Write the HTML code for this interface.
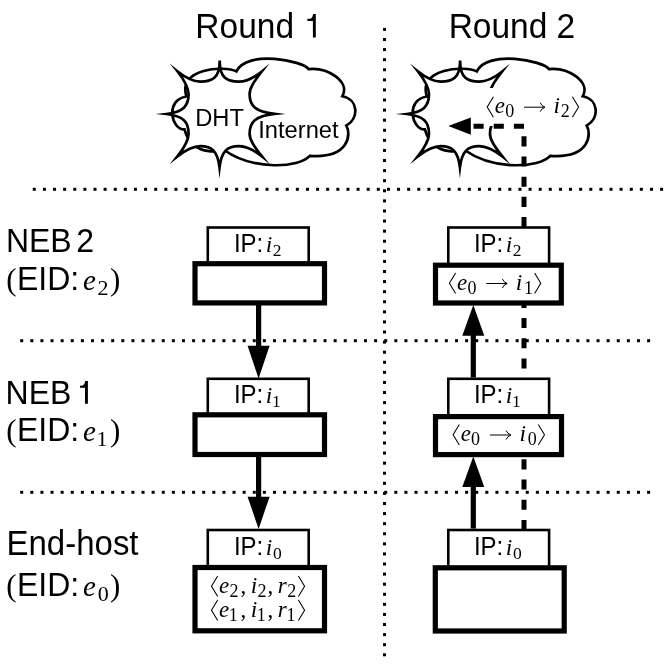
<!DOCTYPE html>
<html><head><meta charset="utf-8"><style>
text.s{font-family:"Liberation Sans",sans-serif}
text.r{font-family:"Liberation Serif",serif}
html,body{margin:0;padding:0;background:#fff;width:672px;height:664px;overflow:hidden;position:relative}
</style></head><body>
<svg width="672" height="664" viewBox="0 0 672 664" style="position:absolute;left:0;top:0;will-change:transform">
<rect width="672" height="664" fill="#fff"/>
<g fill="#000">
<rect x="32.80" y="187.80" width="3.0" height="3.0"/>
<rect x="42.92" y="187.80" width="3.0" height="3.0"/>
<rect x="53.04" y="187.80" width="3.0" height="3.0"/>
<rect x="63.15" y="187.80" width="3.0" height="3.0"/>
<rect x="73.27" y="187.80" width="3.0" height="3.0"/>
<rect x="83.39" y="187.80" width="3.0" height="3.0"/>
<rect x="93.51" y="187.80" width="3.0" height="3.0"/>
<rect x="103.62" y="187.80" width="3.0" height="3.0"/>
<rect x="113.74" y="187.80" width="3.0" height="3.0"/>
<rect x="123.86" y="187.80" width="3.0" height="3.0"/>
<rect x="133.98" y="187.80" width="3.0" height="3.0"/>
<rect x="144.10" y="187.80" width="3.0" height="3.0"/>
<rect x="154.21" y="187.80" width="3.0" height="3.0"/>
<rect x="164.33" y="187.80" width="3.0" height="3.0"/>
<rect x="174.45" y="187.80" width="3.0" height="3.0"/>
<rect x="184.57" y="187.80" width="3.0" height="3.0"/>
<rect x="194.68" y="187.80" width="3.0" height="3.0"/>
<rect x="204.80" y="187.80" width="3.0" height="3.0"/>
<rect x="214.92" y="187.80" width="3.0" height="3.0"/>
<rect x="225.04" y="187.80" width="3.0" height="3.0"/>
<rect x="235.15" y="187.80" width="3.0" height="3.0"/>
<rect x="245.27" y="187.80" width="3.0" height="3.0"/>
<rect x="255.39" y="187.80" width="3.0" height="3.0"/>
<rect x="265.51" y="187.80" width="3.0" height="3.0"/>
<rect x="275.63" y="187.80" width="3.0" height="3.0"/>
<rect x="285.74" y="187.80" width="3.0" height="3.0"/>
<rect x="295.86" y="187.80" width="3.0" height="3.0"/>
<rect x="305.98" y="187.80" width="3.0" height="3.0"/>
<rect x="316.10" y="187.80" width="3.0" height="3.0"/>
<rect x="326.21" y="187.80" width="3.0" height="3.0"/>
<rect x="336.33" y="187.80" width="3.0" height="3.0"/>
<rect x="346.45" y="187.80" width="3.0" height="3.0"/>
<rect x="356.57" y="187.80" width="3.0" height="3.0"/>
<rect x="366.69" y="187.80" width="3.0" height="3.0"/>
<rect x="376.80" y="187.80" width="3.0" height="3.0"/>
<rect x="386.92" y="187.80" width="3.0" height="3.0"/>
<rect x="397.04" y="187.80" width="3.0" height="3.0"/>
<rect x="407.16" y="187.80" width="3.0" height="3.0"/>
<rect x="417.27" y="187.80" width="3.0" height="3.0"/>
<rect x="427.39" y="187.80" width="3.0" height="3.0"/>
<rect x="437.51" y="187.80" width="3.0" height="3.0"/>
<rect x="447.63" y="187.80" width="3.0" height="3.0"/>
<rect x="457.75" y="187.80" width="3.0" height="3.0"/>
<rect x="467.86" y="187.80" width="3.0" height="3.0"/>
<rect x="477.98" y="187.80" width="3.0" height="3.0"/>
<rect x="488.10" y="187.80" width="3.0" height="3.0"/>
<rect x="498.22" y="187.80" width="3.0" height="3.0"/>
<rect x="508.33" y="187.80" width="3.0" height="3.0"/>
<rect x="518.45" y="187.80" width="3.0" height="3.0"/>
<rect x="528.57" y="187.80" width="3.0" height="3.0"/>
<rect x="538.69" y="187.80" width="3.0" height="3.0"/>
<rect x="548.80" y="187.80" width="3.0" height="3.0"/>
<rect x="558.92" y="187.80" width="3.0" height="3.0"/>
<rect x="569.04" y="187.80" width="3.0" height="3.0"/>
<rect x="579.16" y="187.80" width="3.0" height="3.0"/>
<rect x="589.28" y="187.80" width="3.0" height="3.0"/>
<rect x="599.39" y="187.80" width="3.0" height="3.0"/>
<rect x="609.51" y="187.80" width="3.0" height="3.0"/>
<rect x="619.63" y="187.80" width="3.0" height="3.0"/>
<rect x="629.75" y="187.80" width="3.0" height="3.0"/>
<rect x="639.86" y="187.80" width="3.0" height="3.0"/>
<rect x="649.98" y="187.80" width="3.0" height="3.0"/>
<rect x="660.10" y="187.80" width="3.0" height="3.0"/>
<rect x="20.20" y="339.20" width="3.0" height="3.0"/>
<rect x="30.31" y="339.20" width="3.0" height="3.0"/>
<rect x="40.42" y="339.20" width="3.0" height="3.0"/>
<rect x="50.53" y="339.20" width="3.0" height="3.0"/>
<rect x="60.65" y="339.20" width="3.0" height="3.0"/>
<rect x="70.76" y="339.20" width="3.0" height="3.0"/>
<rect x="80.87" y="339.20" width="3.0" height="3.0"/>
<rect x="90.98" y="339.20" width="3.0" height="3.0"/>
<rect x="101.09" y="339.20" width="3.0" height="3.0"/>
<rect x="111.20" y="339.20" width="3.0" height="3.0"/>
<rect x="121.31" y="339.20" width="3.0" height="3.0"/>
<rect x="131.42" y="339.20" width="3.0" height="3.0"/>
<rect x="141.54" y="339.20" width="3.0" height="3.0"/>
<rect x="151.65" y="339.20" width="3.0" height="3.0"/>
<rect x="161.76" y="339.20" width="3.0" height="3.0"/>
<rect x="171.87" y="339.20" width="3.0" height="3.0"/>
<rect x="181.98" y="339.20" width="3.0" height="3.0"/>
<rect x="192.09" y="339.20" width="3.0" height="3.0"/>
<rect x="202.20" y="339.20" width="3.0" height="3.0"/>
<rect x="212.31" y="339.20" width="3.0" height="3.0"/>
<rect x="222.43" y="339.20" width="3.0" height="3.0"/>
<rect x="232.54" y="339.20" width="3.0" height="3.0"/>
<rect x="242.65" y="339.20" width="3.0" height="3.0"/>
<rect x="252.76" y="339.20" width="3.0" height="3.0"/>
<rect x="262.87" y="339.20" width="3.0" height="3.0"/>
<rect x="272.98" y="339.20" width="3.0" height="3.0"/>
<rect x="283.09" y="339.20" width="3.0" height="3.0"/>
<rect x="293.20" y="339.20" width="3.0" height="3.0"/>
<rect x="303.32" y="339.20" width="3.0" height="3.0"/>
<rect x="313.43" y="339.20" width="3.0" height="3.0"/>
<rect x="323.54" y="339.20" width="3.0" height="3.0"/>
<rect x="333.65" y="339.20" width="3.0" height="3.0"/>
<rect x="343.76" y="339.20" width="3.0" height="3.0"/>
<rect x="353.87" y="339.20" width="3.0" height="3.0"/>
<rect x="363.98" y="339.20" width="3.0" height="3.0"/>
<rect x="374.10" y="339.20" width="3.0" height="3.0"/>
<rect x="384.21" y="339.20" width="3.0" height="3.0"/>
<rect x="394.32" y="339.20" width="3.0" height="3.0"/>
<rect x="404.43" y="339.20" width="3.0" height="3.0"/>
<rect x="414.54" y="339.20" width="3.0" height="3.0"/>
<rect x="424.65" y="339.20" width="3.0" height="3.0"/>
<rect x="434.76" y="339.20" width="3.0" height="3.0"/>
<rect x="444.87" y="339.20" width="3.0" height="3.0"/>
<rect x="454.99" y="339.20" width="3.0" height="3.0"/>
<rect x="465.10" y="339.20" width="3.0" height="3.0"/>
<rect x="475.21" y="339.20" width="3.0" height="3.0"/>
<rect x="485.32" y="339.20" width="3.0" height="3.0"/>
<rect x="495.43" y="339.20" width="3.0" height="3.0"/>
<rect x="505.54" y="339.20" width="3.0" height="3.0"/>
<rect x="515.65" y="339.20" width="3.0" height="3.0"/>
<rect x="525.76" y="339.20" width="3.0" height="3.0"/>
<rect x="535.88" y="339.20" width="3.0" height="3.0"/>
<rect x="545.99" y="339.20" width="3.0" height="3.0"/>
<rect x="556.10" y="339.20" width="3.0" height="3.0"/>
<rect x="566.21" y="339.20" width="3.0" height="3.0"/>
<rect x="576.32" y="339.20" width="3.0" height="3.0"/>
<rect x="586.43" y="339.20" width="3.0" height="3.0"/>
<rect x="596.54" y="339.20" width="3.0" height="3.0"/>
<rect x="606.65" y="339.20" width="3.0" height="3.0"/>
<rect x="616.77" y="339.20" width="3.0" height="3.0"/>
<rect x="626.88" y="339.20" width="3.0" height="3.0"/>
<rect x="636.99" y="339.20" width="3.0" height="3.0"/>
<rect x="647.10" y="339.20" width="3.0" height="3.0"/>
<rect x="20.20" y="490.80" width="3.0" height="3.0"/>
<rect x="30.31" y="490.80" width="3.0" height="3.0"/>
<rect x="40.42" y="490.80" width="3.0" height="3.0"/>
<rect x="50.53" y="490.80" width="3.0" height="3.0"/>
<rect x="60.65" y="490.80" width="3.0" height="3.0"/>
<rect x="70.76" y="490.80" width="3.0" height="3.0"/>
<rect x="80.87" y="490.80" width="3.0" height="3.0"/>
<rect x="90.98" y="490.80" width="3.0" height="3.0"/>
<rect x="101.09" y="490.80" width="3.0" height="3.0"/>
<rect x="111.20" y="490.80" width="3.0" height="3.0"/>
<rect x="121.31" y="490.80" width="3.0" height="3.0"/>
<rect x="131.42" y="490.80" width="3.0" height="3.0"/>
<rect x="141.54" y="490.80" width="3.0" height="3.0"/>
<rect x="151.65" y="490.80" width="3.0" height="3.0"/>
<rect x="161.76" y="490.80" width="3.0" height="3.0"/>
<rect x="171.87" y="490.80" width="3.0" height="3.0"/>
<rect x="181.98" y="490.80" width="3.0" height="3.0"/>
<rect x="192.09" y="490.80" width="3.0" height="3.0"/>
<rect x="202.20" y="490.80" width="3.0" height="3.0"/>
<rect x="212.31" y="490.80" width="3.0" height="3.0"/>
<rect x="222.43" y="490.80" width="3.0" height="3.0"/>
<rect x="232.54" y="490.80" width="3.0" height="3.0"/>
<rect x="242.65" y="490.80" width="3.0" height="3.0"/>
<rect x="252.76" y="490.80" width="3.0" height="3.0"/>
<rect x="262.87" y="490.80" width="3.0" height="3.0"/>
<rect x="272.98" y="490.80" width="3.0" height="3.0"/>
<rect x="283.09" y="490.80" width="3.0" height="3.0"/>
<rect x="293.20" y="490.80" width="3.0" height="3.0"/>
<rect x="303.32" y="490.80" width="3.0" height="3.0"/>
<rect x="313.43" y="490.80" width="3.0" height="3.0"/>
<rect x="323.54" y="490.80" width="3.0" height="3.0"/>
<rect x="333.65" y="490.80" width="3.0" height="3.0"/>
<rect x="343.76" y="490.80" width="3.0" height="3.0"/>
<rect x="353.87" y="490.80" width="3.0" height="3.0"/>
<rect x="363.98" y="490.80" width="3.0" height="3.0"/>
<rect x="374.10" y="490.80" width="3.0" height="3.0"/>
<rect x="384.21" y="490.80" width="3.0" height="3.0"/>
<rect x="394.32" y="490.80" width="3.0" height="3.0"/>
<rect x="404.43" y="490.80" width="3.0" height="3.0"/>
<rect x="414.54" y="490.80" width="3.0" height="3.0"/>
<rect x="424.65" y="490.80" width="3.0" height="3.0"/>
<rect x="434.76" y="490.80" width="3.0" height="3.0"/>
<rect x="444.87" y="490.80" width="3.0" height="3.0"/>
<rect x="454.99" y="490.80" width="3.0" height="3.0"/>
<rect x="465.10" y="490.80" width="3.0" height="3.0"/>
<rect x="475.21" y="490.80" width="3.0" height="3.0"/>
<rect x="485.32" y="490.80" width="3.0" height="3.0"/>
<rect x="495.43" y="490.80" width="3.0" height="3.0"/>
<rect x="505.54" y="490.80" width="3.0" height="3.0"/>
<rect x="515.65" y="490.80" width="3.0" height="3.0"/>
<rect x="525.76" y="490.80" width="3.0" height="3.0"/>
<rect x="535.88" y="490.80" width="3.0" height="3.0"/>
<rect x="545.99" y="490.80" width="3.0" height="3.0"/>
<rect x="556.10" y="490.80" width="3.0" height="3.0"/>
<rect x="566.21" y="490.80" width="3.0" height="3.0"/>
<rect x="576.32" y="490.80" width="3.0" height="3.0"/>
<rect x="586.43" y="490.80" width="3.0" height="3.0"/>
<rect x="596.54" y="490.80" width="3.0" height="3.0"/>
<rect x="606.65" y="490.80" width="3.0" height="3.0"/>
<rect x="616.77" y="490.80" width="3.0" height="3.0"/>
<rect x="626.88" y="490.80" width="3.0" height="3.0"/>
<rect x="636.99" y="490.80" width="3.0" height="3.0"/>
<rect x="647.10" y="490.80" width="3.0" height="3.0"/>
<rect x="383.00" y="27.90" width="3.0" height="3.0"/>
<rect x="383.00" y="37.99" width="3.0" height="3.0"/>
<rect x="383.00" y="48.07" width="3.0" height="3.0"/>
<rect x="383.00" y="58.16" width="3.0" height="3.0"/>
<rect x="383.00" y="68.25" width="3.0" height="3.0"/>
<rect x="383.00" y="78.34" width="3.0" height="3.0"/>
<rect x="383.00" y="88.42" width="3.0" height="3.0"/>
<rect x="383.00" y="98.51" width="3.0" height="3.0"/>
<rect x="383.00" y="108.60" width="3.0" height="3.0"/>
<rect x="383.00" y="118.68" width="3.0" height="3.0"/>
<rect x="383.00" y="128.77" width="3.0" height="3.0"/>
<rect x="383.00" y="138.86" width="3.0" height="3.0"/>
<rect x="383.00" y="148.95" width="3.0" height="3.0"/>
<rect x="383.00" y="159.03" width="3.0" height="3.0"/>
<rect x="383.00" y="169.12" width="3.0" height="3.0"/>
<rect x="383.00" y="179.21" width="3.0" height="3.0"/>
<rect x="383.00" y="189.29" width="3.0" height="3.0"/>
<rect x="383.00" y="199.38" width="3.0" height="3.0"/>
<rect x="383.00" y="209.47" width="3.0" height="3.0"/>
<rect x="383.00" y="219.55" width="3.0" height="3.0"/>
<rect x="383.00" y="229.64" width="3.0" height="3.0"/>
<rect x="383.00" y="239.73" width="3.0" height="3.0"/>
<rect x="383.00" y="249.82" width="3.0" height="3.0"/>
<rect x="383.00" y="259.90" width="3.0" height="3.0"/>
<rect x="383.00" y="269.99" width="3.0" height="3.0"/>
<rect x="383.00" y="280.08" width="3.0" height="3.0"/>
<rect x="383.00" y="290.16" width="3.0" height="3.0"/>
<rect x="383.00" y="300.25" width="3.0" height="3.0"/>
<rect x="383.00" y="310.34" width="3.0" height="3.0"/>
<rect x="383.00" y="320.43" width="3.0" height="3.0"/>
<rect x="383.00" y="330.51" width="3.0" height="3.0"/>
<rect x="383.00" y="340.60" width="3.0" height="3.0"/>
<rect x="383.00" y="350.69" width="3.0" height="3.0"/>
<rect x="383.00" y="360.77" width="3.0" height="3.0"/>
<rect x="383.00" y="370.86" width="3.0" height="3.0"/>
<rect x="383.00" y="380.95" width="3.0" height="3.0"/>
<rect x="383.00" y="391.04" width="3.0" height="3.0"/>
<rect x="383.00" y="401.12" width="3.0" height="3.0"/>
<rect x="383.00" y="411.21" width="3.0" height="3.0"/>
<rect x="383.00" y="421.30" width="3.0" height="3.0"/>
<rect x="383.00" y="431.38" width="3.0" height="3.0"/>
<rect x="383.00" y="441.47" width="3.0" height="3.0"/>
<rect x="383.00" y="451.56" width="3.0" height="3.0"/>
<rect x="383.00" y="461.65" width="3.0" height="3.0"/>
<rect x="383.00" y="471.73" width="3.0" height="3.0"/>
<rect x="383.00" y="481.82" width="3.0" height="3.0"/>
<rect x="383.00" y="491.91" width="3.0" height="3.0"/>
<rect x="383.00" y="501.99" width="3.0" height="3.0"/>
<rect x="383.00" y="512.08" width="3.0" height="3.0"/>
<rect x="383.00" y="522.17" width="3.0" height="3.0"/>
<rect x="383.00" y="532.25" width="3.0" height="3.0"/>
<rect x="383.00" y="542.34" width="3.0" height="3.0"/>
<rect x="383.00" y="552.43" width="3.0" height="3.0"/>
<rect x="383.00" y="562.52" width="3.0" height="3.0"/>
<rect x="383.00" y="572.60" width="3.0" height="3.0"/>
<rect x="383.00" y="582.69" width="3.0" height="3.0"/>
<rect x="383.00" y="592.78" width="3.0" height="3.0"/>
<rect x="383.00" y="602.86" width="3.0" height="3.0"/>
<rect x="383.00" y="612.95" width="3.0" height="3.0"/>
<rect x="383.00" y="623.04" width="3.0" height="3.0"/>
<rect x="383.00" y="633.13" width="3.0" height="3.0"/>
<rect x="383.00" y="643.21" width="3.0" height="3.0"/>
<rect x="383.00" y="653.30" width="3.0" height="3.0"/>
</g>
<text transform="translate(195.35,37.70) scale(1,1.0436)" class="s" font-size="33.5">Round</text>
<path d="M307.40,18.85 L310.70,18.65 Q312.70,17.65 313.20,14.10 L315.80,14.10 L315.80,37.60 L312.90,37.60 L312.90,20.95 L307.40,20.95 Z" fill="#000"/>
<text transform="translate(448.65,37.90) scale(1,1.0436)" class="s" font-size="33.5">Round 2</text>
<path d="M186.50,96.50 C177.21,67.81 224.70,65.42 236.40,71.40 C247.08,49.40 303.16,60.83 308.50,69.10 C327.72,66.98 350.42,81.62 342.40,96.20 C358.34,99.33 359.40,118.08 346.30,125.60 C351.15,133.56 350.05,158.71 309.80,155.80 C298.62,167.97 253.70,170.73 224.00,150.00 C227.82,148.83 193.17,161.11 184.50,129.40 C171.31,129.98 164.68,99.66 186.50,96.50 Z" fill="#fff" stroke="#000" stroke-width="2.7" stroke-linejoin="miter"/>
<path d="M219.70,60.50 C219.67,78.52 227.34,81.70 238.85,81.70 C246.50,81.70 253.45,78.02 261.79,71.46 C253.80,81.75 249.60,87.87 249.60,94.10 C249.60,105.98 255.15,111.52 274.52,113.90 C255.15,116.28 249.60,121.82 249.60,133.70 C249.60,139.89 253.84,145.99 261.98,156.45 C253.52,149.81 246.54,146.10 238.85,146.10 C227.27,146.10 221.54,151.07 219.52,167.32 C217.55,151.06 211.87,146.10 200.35,146.10 C192.73,146.10 185.82,149.81 177.40,156.44 C184.66,147.07 188.60,140.57 188.60,133.70 C188.60,121.85 183.50,116.05 166.48,113.98 C183.49,111.87 188.60,106.01 188.60,94.10 C188.60,87.19 184.66,80.67 177.39,71.27 C185.88,77.97 192.77,81.70 200.35,81.70 C211.94,81.70 219.67,78.52 219.70,60.50" fill="#fff" stroke="#000" stroke-width="2.7" stroke-linejoin="miter" stroke-miterlimit="20"/>
<path d="M426.90,96.50 C417.61,67.81 465.10,65.42 476.80,71.40 C487.48,49.40 543.56,60.83 548.90,69.10 C568.12,66.98 590.82,81.62 582.80,96.20 C598.74,99.33 599.80,118.08 586.70,125.60 C591.55,133.56 590.45,158.71 550.20,155.80 C539.02,167.97 494.10,170.73 464.40,150.00 C468.22,148.83 433.57,161.11 424.90,129.40 C411.71,129.98 405.08,99.66 426.90,96.50 Z" fill="#fff" stroke="#000" stroke-width="2.7" stroke-linejoin="miter"/>
<path d="M460.10,60.50 C460.07,78.52 467.74,81.70 479.25,81.70 C486.90,81.70 493.85,78.02 502.19,71.46 C494.20,81.75 490.00,87.87 490.00,94.10 C490.00,105.98 495.55,111.52 514.92,113.90 C495.55,116.28 490.00,121.82 490.00,133.70 C490.00,139.89 494.24,145.99 502.38,156.45 C493.92,149.81 486.94,146.10 479.25,146.10 C467.67,146.10 461.94,151.07 459.92,167.32 C457.95,151.06 452.27,146.10 440.75,146.10 C433.13,146.10 426.22,149.81 417.80,156.44 C425.06,147.07 429.00,140.57 429.00,133.70 C429.00,121.85 423.90,116.05 406.88,113.98 C423.89,111.87 429.00,106.01 429.00,94.10 C429.00,87.19 425.06,80.67 417.79,71.27 C426.28,77.97 433.17,81.70 440.75,81.70 C452.34,81.70 460.07,78.52 460.10,60.50" fill="#fff" stroke="#000" stroke-width="2.7" stroke-linejoin="miter" stroke-miterlimit="20"/>
<text transform="translate(195.16,125.50) scale(1,1.0436)" class="s" font-size="23.7">DHT</text>
<text transform="translate(258.21,138.20) scale(1,1.0436)" class="s" font-size="23.7">Internet</text>
<rect x="485" y="88" width="95" height="38" fill="#fff"/>
<path d="M524,530 L524,126.2 L470.8,126.2" fill="none" stroke="#000" stroke-width="5" stroke-dasharray="10.1 10.09"/>
<path d="M448.3,126 L470.8,117.6 L470.8,134.7 Z" fill="#000"/>
<text transform="translate(5.88,251.80) scale(1,1.0436)" class="s" font-size="32">NEB</text>
<text transform="translate(76.29,251.80) scale(1,1.0436)" class="s" font-size="32">2</text>
<text x="6.24" y="289.70" class="r" font-size="31">(</text>
<text transform="translate(16.98,289.70) scale(1,1.0436)" class="s" font-size="32">EID:</text>
<text x="83.11" y="289.70" class="r" font-size="29" font-style="italic">e</text>
<text x="97.53" y="294.70" class="r" font-size="22">2</text>
<text x="110.00" y="289.70" class="r" font-size="31">)</text>
<text transform="translate(5.58,403.60) scale(1,1.0436)" class="s" font-size="32">NEB</text>
<path d="M80.00,385.75 L82.80,385.55 Q84.80,384.55 85.30,381.10 L87.90,381.10 L87.90,403.70 L85.00,403.70 L85.00,387.85 L80.00,387.85 Z" fill="#000"/>
<text x="6.24" y="441.20" class="r" font-size="31">(</text>
<text transform="translate(16.98,441.20) scale(1,1.0436)" class="s" font-size="32">EID:</text>
<text x="83.11" y="441.20" class="r" font-size="29" font-style="italic">e</text>
<text x="96.57" y="446.20" class="r" font-size="22">1</text>
<text x="110.00" y="441.20" class="r" font-size="31">)</text>
<text transform="translate(6.49,554.60) scale(1,1.0436)" class="s" font-size="33">End-host</text>
<text x="6.24" y="596.00" class="r" font-size="31">(</text>
<text transform="translate(16.98,596.00) scale(1,1.0436)" class="s" font-size="32">EID:</text>
<text x="83.11" y="596.00" class="r" font-size="29" font-style="italic">e</text>
<text x="97.66" y="601.00" class="r" font-size="22">0</text>
<text x="110.00" y="596.00" class="r" font-size="31">)</text>
<path d="M493.40,96.80 L487.20,107.00 L493.40,117.20" fill="none" stroke="#000" stroke-width="1.05"/>
<text x="494.79" y="113.20" class="r" font-size="23" font-style="italic">e</text>
<text x="505.21" y="117.30" class="r" font-size="18">0</text>
<path d="M524.00,107.20 L544.50,107.20 M540.20,102.70 Q541.50,106.00 545.00,107.20 Q541.50,108.40 540.20,111.70" fill="none" stroke="#000" stroke-width="1.0"/>
<text x="553.59" y="113.20" class="r" font-size="23.5" font-style="italic">i</text>
<text x="560.71" y="117.30" class="r" font-size="18">2</text>
<path d="M572.40,96.80 L578.60,107.00 L572.40,117.20" fill="none" stroke="#000" stroke-width="1.05"/>
<rect x="207.8" y="227.5" width="100.90" height="36.20" fill="#fff" stroke="#000" stroke-width="2.6"/>
<rect x="195" y="263.7" width="129.50" height="39.20" fill="#fff" stroke="#000" stroke-width="5.2"/>
<rect x="207.8" y="378.8" width="100.90" height="36.00" fill="#fff" stroke="#000" stroke-width="2.6"/>
<rect x="195" y="414.8" width="129.50" height="39.70" fill="#fff" stroke="#000" stroke-width="5.2"/>
<rect x="207.8" y="530" width="100.90" height="37.50" fill="#fff" stroke="#000" stroke-width="2.6"/>
<rect x="195" y="567.5" width="129.50" height="63.30" fill="#fff" stroke="#000" stroke-width="5.2"/>
<rect x="448.3" y="227.5" width="100.80" height="37.70" fill="#fff" stroke="#000" stroke-width="2.6"/>
<rect x="435.5" y="265.2" width="125.80" height="37.80" fill="#fff" stroke="#000" stroke-width="5.2"/>
<rect x="448.3" y="378.8" width="100.80" height="37.80" fill="#fff" stroke="#000" stroke-width="2.6"/>
<rect x="435.5" y="416.6" width="126.00" height="38.00" fill="#fff" stroke="#000" stroke-width="5.2"/>
<rect x="448.3" y="530" width="100.80" height="37.80" fill="#fff" stroke="#000" stroke-width="2.6"/>
<rect x="435.3" y="567.8" width="128.90" height="63.20" fill="#fff" stroke="#000" stroke-width="5.2"/>
<text transform="translate(233.89,251.80) scale(1,1.0436)" class="s" font-size="24">IP:</text>
<text x="265.69" y="251.80" class="r" font-size="23.5" font-style="italic">i</text>
<text x="272.83" y="255.60" class="r" font-size="17.5">2</text>
<text transform="translate(233.89,403.10) scale(1,1.0436)" class="s" font-size="24">IP:</text>
<text x="265.69" y="403.10" class="r" font-size="23.5" font-style="italic">i</text>
<text x="272.06" y="406.90" class="r" font-size="17.5">1</text>
<text transform="translate(233.89,555.00) scale(1,1.0436)" class="s" font-size="24">IP:</text>
<text x="265.69" y="555.00" class="r" font-size="23.5" font-style="italic">i</text>
<text x="272.93" y="558.80" class="r" font-size="17.5">0</text>
<text transform="translate(473.89,251.80) scale(1,1.0436)" class="s" font-size="24">IP:</text>
<text x="505.69" y="251.80" class="r" font-size="23.5" font-style="italic">i</text>
<text x="512.83" y="255.60" class="r" font-size="17.5">2</text>
<text transform="translate(473.89,403.10) scale(1,1.0436)" class="s" font-size="24">IP:</text>
<text x="505.69" y="403.10" class="r" font-size="23.5" font-style="italic">i</text>
<text x="512.06" y="406.90" class="r" font-size="17.5">1</text>
<text transform="translate(473.89,555.00) scale(1,1.0436)" class="s" font-size="24">IP:</text>
<text x="505.69" y="555.00" class="r" font-size="23.5" font-style="italic">i</text>
<text x="512.93" y="558.80" class="r" font-size="17.5">0</text>
<path d="M455.60,273.10 L449.40,283.30 L455.60,293.50" fill="none" stroke="#000" stroke-width="1.05"/>
<text x="456.99" y="289.50" class="r" font-size="23" font-style="italic">e</text>
<text x="467.41" y="293.60" class="r" font-size="18">0</text>
<path d="M486.20,283.50 L506.70,283.50 M502.40,279.00 Q503.70,282.30 507.20,283.50 Q503.70,284.70 502.40,288.00" fill="none" stroke="#000" stroke-width="1.0"/>
<text x="515.79" y="289.50" class="r" font-size="23.5" font-style="italic">i</text>
<text x="524.12" y="293.60" class="r" font-size="18">1</text>
<path d="M534.60,273.10 L540.80,283.30 L534.60,293.50" fill="none" stroke="#000" stroke-width="1.05"/>
<path d="M459.30,424.60 L453.10,434.80 L459.30,445.00" fill="none" stroke="#000" stroke-width="1.05"/>
<text x="460.69" y="441.00" class="r" font-size="23" font-style="italic">e</text>
<text x="471.11" y="445.10" class="r" font-size="18">0</text>
<path d="M489.90,435.00 L510.40,435.00 M506.10,430.50 Q507.40,433.80 510.90,435.00 Q507.40,436.20 506.10,439.50" fill="none" stroke="#000" stroke-width="1.0"/>
<text x="519.49" y="441.00" class="r" font-size="23.5" font-style="italic">i</text>
<text x="527.71" y="445.10" class="r" font-size="18">0</text>
<path d="M538.30,424.60 L544.50,434.80 L538.30,445.00" fill="none" stroke="#000" stroke-width="1.05"/>
<path d="M217.70,576.10 L211.50,586.30 L217.70,596.50" fill="none" stroke="#000" stroke-width="1.05"/>
<text x="218.99" y="592.50" class="r" font-size="23" font-style="italic">e</text>
<text x="229.61" y="596.50" class="r" font-size="18">2</text>
<text x="240.52" y="592.50" class="r" font-size="23">,</text>
<text x="250.69" y="592.50" class="r" font-size="23.5" font-style="italic">i</text>
<text x="257.51" y="596.50" class="r" font-size="18">2</text>
<text x="267.62" y="592.50" class="r" font-size="23">,</text>
<text x="277.77" y="592.50" class="r" font-size="23" font-style="italic">r</text>
<text x="287.31" y="596.50" class="r" font-size="18">2</text>
<path d="M298.40,576.10 L304.60,586.30 L298.40,596.50" fill="none" stroke="#000" stroke-width="1.05"/>
<path d="M217.70,600.10 L211.50,610.30 L217.70,620.50" fill="none" stroke="#000" stroke-width="1.05"/>
<text x="218.99" y="616.50" class="r" font-size="23" font-style="italic">e</text>
<text x="228.82" y="620.50" class="r" font-size="18">1</text>
<text x="240.52" y="616.50" class="r" font-size="23">,</text>
<text x="250.69" y="616.50" class="r" font-size="23.5" font-style="italic">i</text>
<text x="256.72" y="620.50" class="r" font-size="18">1</text>
<text x="267.62" y="616.50" class="r" font-size="23">,</text>
<text x="277.77" y="616.50" class="r" font-size="23" font-style="italic">r</text>
<text x="286.52" y="620.50" class="r" font-size="18">1</text>
<path d="M298.40,600.10 L304.60,610.30 L298.40,620.50" fill="none" stroke="#000" stroke-width="1.05"/>
<rect x="256.00" y="305" width="5.2" height="41.80" fill="#000"/>
<path d="M247.60,345.8 L269.60,345.8 L258.60,378.6 Z" fill="#000"/>
<rect x="256.00" y="457" width="5.2" height="40.70" fill="#000"/>
<path d="M247.60,496.7 L269.60,496.7 L258.60,528.9 Z" fill="#000"/>
<rect x="470.70" y="334.70" width="5.2" height="42.80" fill="#000"/>
<path d="M462.30,335.7 L484.30,335.7 L473.30,305 Z" fill="#000"/>
<rect x="470.70" y="485.90" width="5.2" height="42.70" fill="#000"/>
<path d="M462.30,486.9 L484.30,486.9 L473.30,456.5 Z" fill="#000"/>
</svg>
</body></html>
